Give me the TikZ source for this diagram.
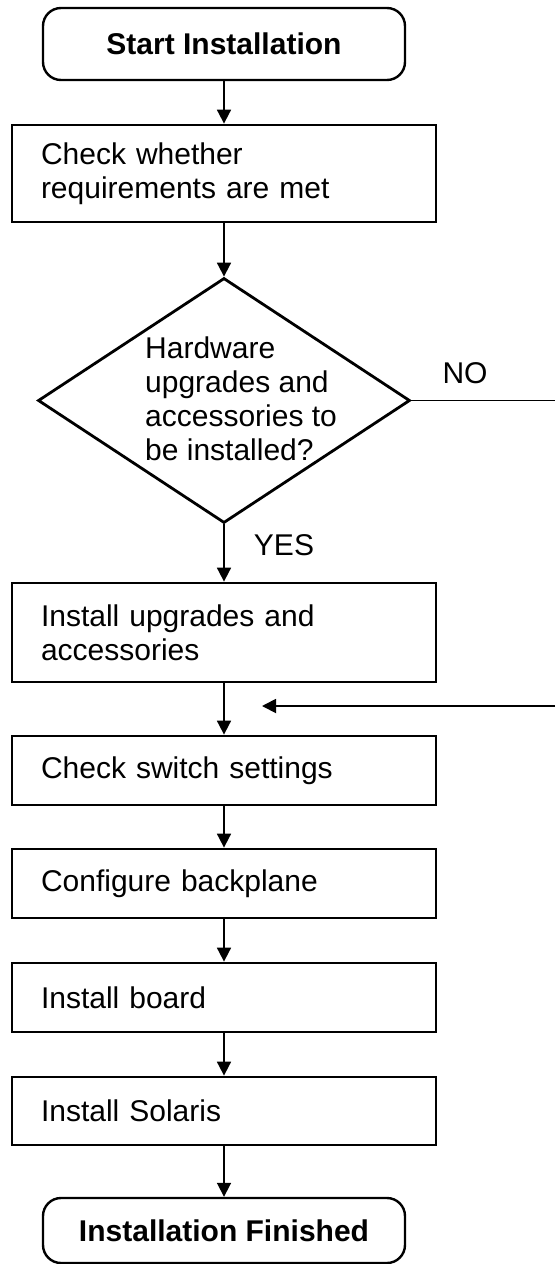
\documentclass[tikz,border=0pt]{standalone}
\usepackage{fontspec}
\setmainfont{Liberation Sans}
\usetikzlibrary{shapes.geometric,arrows.meta}
\begin{document}
\begin{tikzpicture}[x=1pt,y=-1pt,
  every node/.style={font=\fontsize{30pt}{34pt}\selectfont, inner sep=0pt},
  proc/.style={draw, line width=2.8pt, rectangle, minimum width=424pt, text width=366pt, align=left, inner xsep=29pt, inner ysep=0pt},
  term/.style={draw, line width=2.4pt, rounded corners=18pt, minimum width=362pt, minimum height=72pt, font=\fontsize{30pt}{34pt}\selectfont\bfseries},
  dec/.style={draw, diamond, line width=2.8pt, minimum width=372pt, minimum height=245pt, inner sep=0pt},
  conn/.style={line width=1.8pt, -{Triangle[length=14pt,width=14pt]}},
  plainline/.style={line width=1.8pt}
]
\useasboundingbox (0,0) rectangle (555,1264);
\node[term] (start) at (224,44) {Start Installation};
\node[proc, minimum height=97pt] (check) at (224,173.5) {Check whether\\requirements are met};
\node[dec] (q) at (224,400.5) {};
\node[anchor=west, align=left] (qt) at (145,399) {Hardware\\upgrades and\\accessories to\\be installed?};
\node[proc, minimum height=99pt] (upg) at (224,632.5) {Install upgrades and\\accessories};
\node[proc, minimum height=69pt] (sw) at (224,770.5) {Check switch settings};
\node[proc, minimum height=69pt] (bp) at (224,883.5) {Configure backplane};
\node[proc, minimum height=69pt] (brd) at (224,997.5) {Install board};
\node[proc, minimum height=68pt] (sol) at (224,1111) {Install Solaris};
\node[term, minimum height=65pt] (fin) at (224,1230.5) {Installation Finished};
\node (no) at (465,373) {NO};
\node (yes) at (284,545) {YES};
\coordinate (noend) at (555,400.5);
\coordinate (retstart) at (555,706);
\coordinate (retend) at (262,706);
\draw[conn] (start) -- (check);
\draw[conn] (check) -- (q);
\draw[conn] (q) -- (upg);
\draw[plainline] (q.east) -- (noend);
\draw[conn] (upg) -- (sw);
\draw[conn] (retstart) -- (retend);
\draw[conn] (sw) -- (bp);
\draw[conn] (bp) -- (brd);
\draw[conn] (brd) -- (sol);
\draw[conn] (sol) -- (fin);
\end{tikzpicture}
\end{document}
